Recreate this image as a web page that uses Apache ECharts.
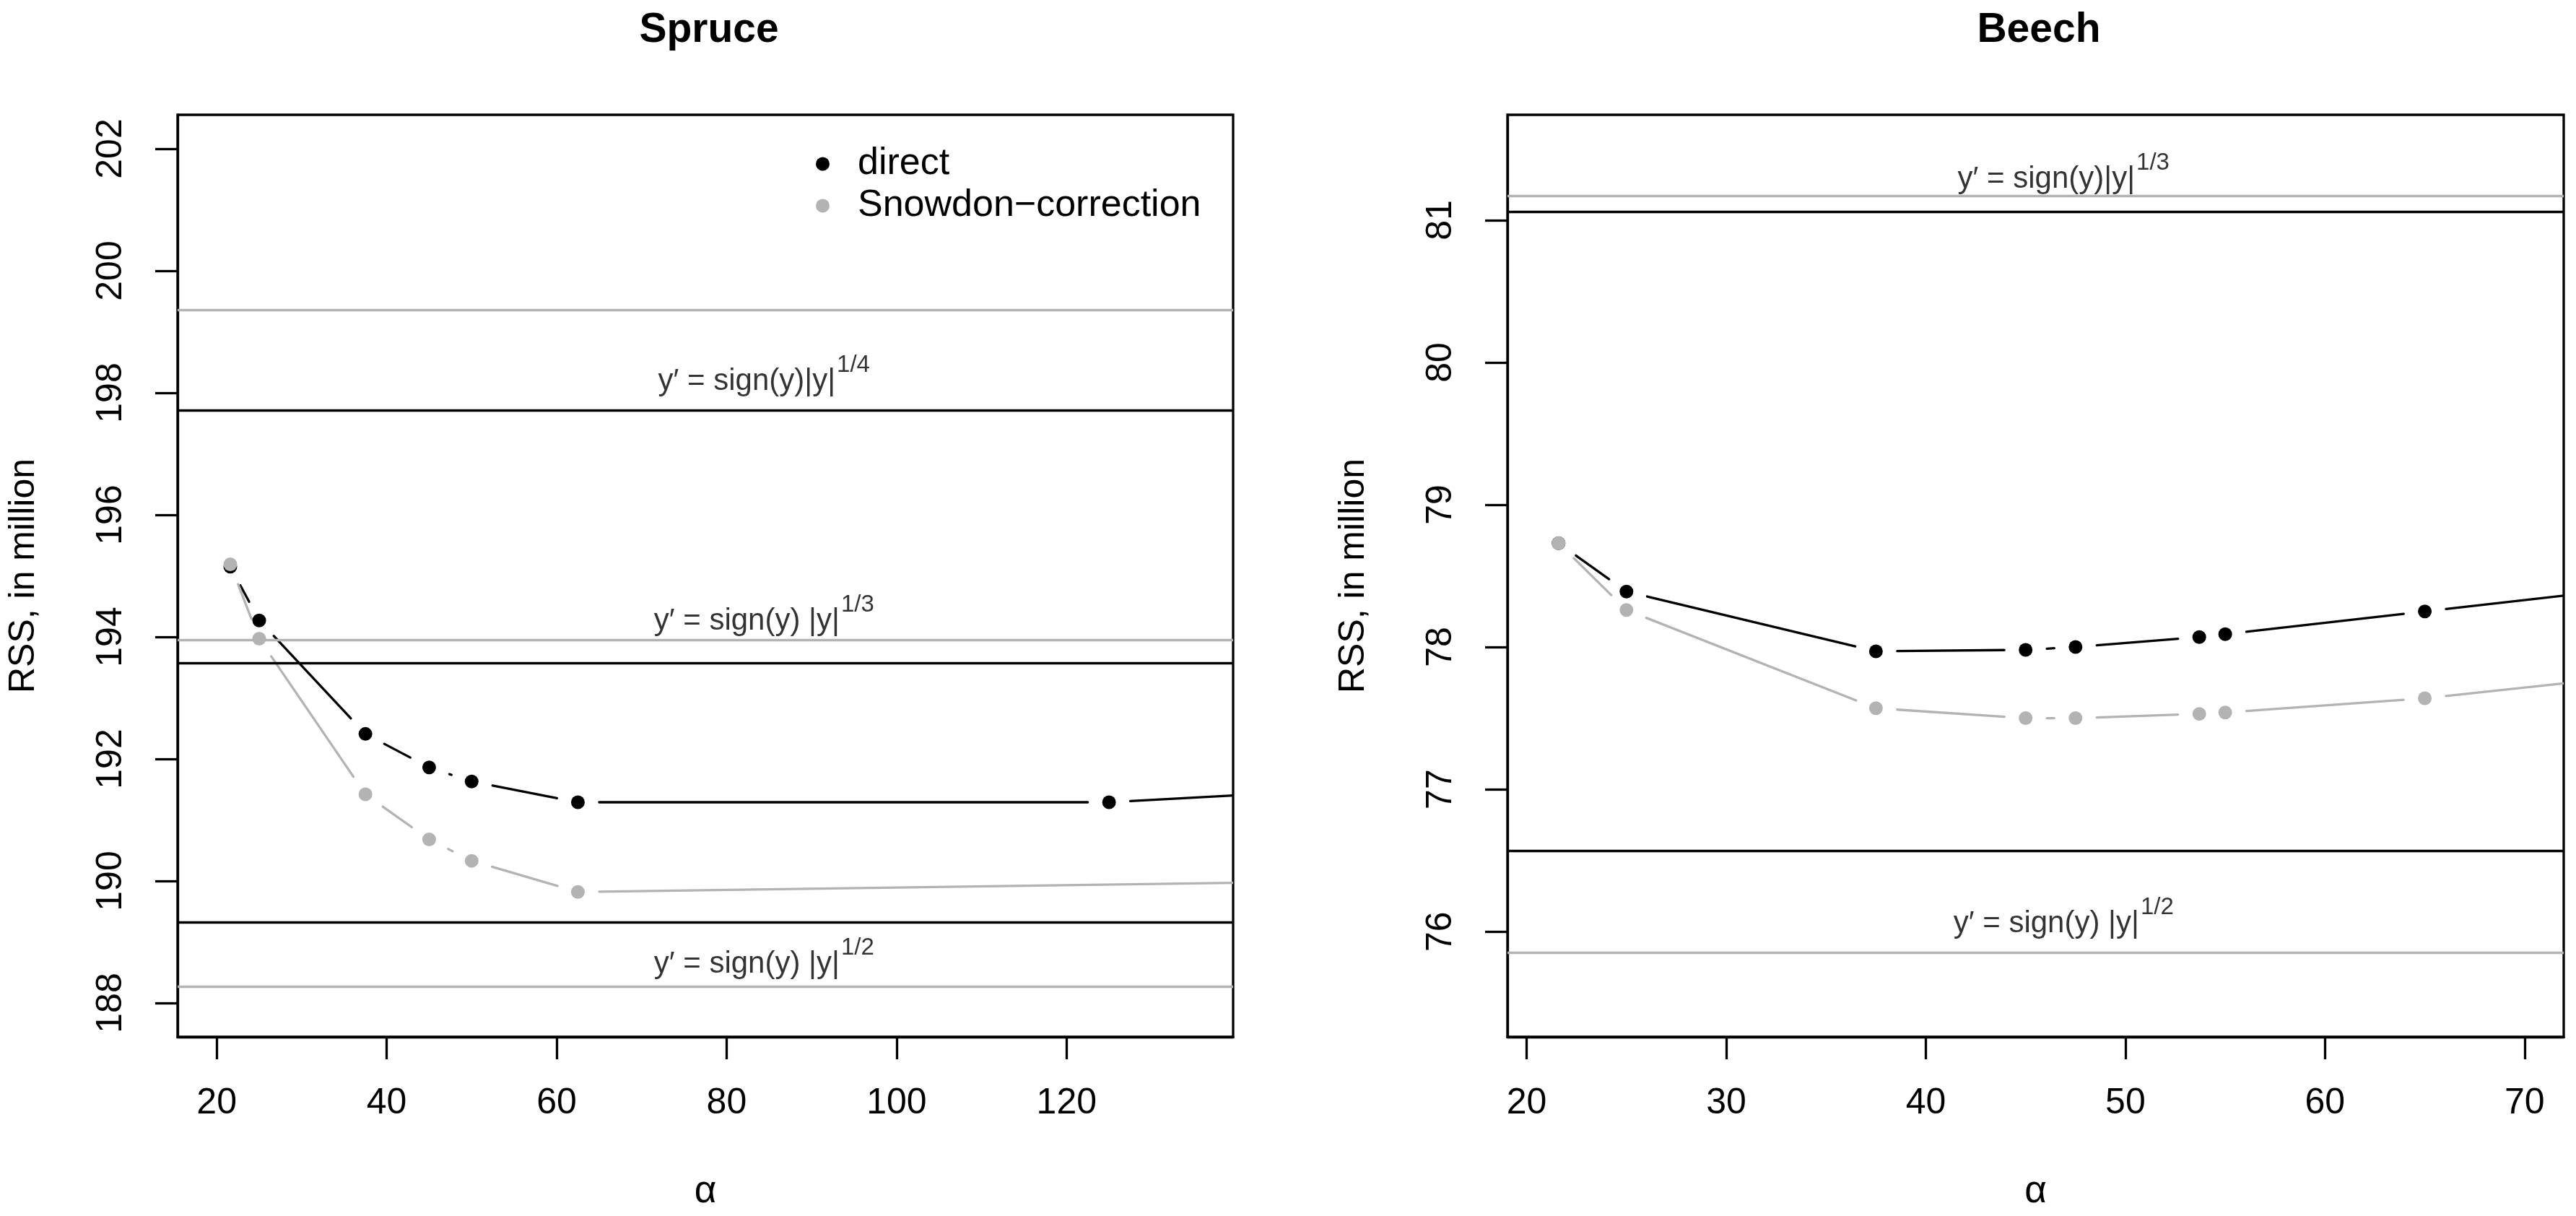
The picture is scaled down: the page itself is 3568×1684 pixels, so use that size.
<!DOCTYPE html>
<html>
<head>
<meta charset="UTF-8">
<script src="https://cdn.jsdelivr.net/npm/echarts@6/dist/echarts.min.js"></script>
<style>
    html, body { margin: 0; padding: 0; background: #fff; }
    #main { width: 3568px; height: 1684px; }
</style>
</head>
<body>
<div id="main"></div>
<script>
// ---- data ----
var spruceAlphaDirect = [21.6, 25, 37.5, 45, 50, 62.5, 125, 150];
var spruceRssDirect   = [195.15, 194.27, 192.41, 191.86, 191.63, 191.29, 191.29, 191.48];
var spruceAlphaSnow   = [21.6, 25, 37.5, 45, 50, 62.5, 150];
var spruceRssSnow     = [195.19, 193.97, 191.42, 190.68, 190.33, 189.82, 189.99];

var beechAlpha        = [21.6, 25, 37.5, 45, 47.5, 53.7, 55, 65, 75];
var beechRssDirect    = [78.73, 78.39, 77.97, 77.98, 78.00, 78.07, 78.09, 78.25, 78.41];
var beechRssSnow      = [78.73, 78.26, 77.57, 77.50, 77.50, 77.53, 77.54, 77.64, 77.79];

// reference levels of the power transformations
var spruceRefDirect = [197.71, 193.57, 189.32];
var spruceRefSnow   = [199.36, 193.95, 188.27];
var beechRefDirect  = [81.06, 76.57];
var beechRefSnow    = [81.17, 75.85];

// annotation texts and where they sit (data units)
var spruceLabelBase = ['y\u2032 = sign(y)|y|', 'y\u2032 = sign(y) |y|', 'y\u2032 = sign(y) |y|'];
var spruceLabelPow  = ['1/4', '1/3', '1/2'];
var spruceLabelX    = [84.4, 84.4, 84.4];
var spruceLabelY    = [198.0, 194.07, 188.45];
var beechLabelBase  = ['y\u2032 = sign(y)|y|', 'y\u2032 = sign(y) |y|'];
var beechLabelPow   = ['1/3', '1/2'];
var beechLabelX     = [46.9, 46.9];
var beechLabelY     = [81.21, 75.975];

var spruceXTicks = [20, 40, 60, 80, 100, 120];
var spruceYTicks = [188, 190, 192, 194, 196, 198, 200, 202];
var beechXTicks  = [20, 30, 40, 50, 60, 70];
var beechYTicks  = [76, 77, 78, 79, 80, 81];

var legendNames = ['direct', 'Snowdon\u2212correction'];

// ---- styling ----
var BLACK = '#000000';
var GRAY = '#b3b3b3';
var LW = 3.3;
var GAP = 29.5;
var REG = "'Liberation Sans', Arial, sans-serif";

var myChart = echarts.init(document.getElementById('main'), null, { renderer: 'canvas' });

function pairs(xs, ys) {
    return xs.map(function (x, i) { return [x, ys[i]]; });
}

function segments(xs, ys) {
    var out = [];
    for (var i = 0; i < xs.length - 1; i++) {
        out.push([xs[i], ys[i], xs[i + 1], ys[i + 1]]);
    }
    return out;
}

// R type="b": line pieces stop short of each point
function gapRenderer(color) {
    return function (params, api) {
        var p1 = api.coord([api.value(0), api.value(1)]);
        var p2 = api.coord([api.value(2), api.value(3)]);
        var dx = p2[0] - p1[0], dy = p2[1] - p1[1];
        var len = Math.sqrt(dx * dx + dy * dy);
        if (len <= 2 * GAP) return { type: 'group', children: [] };
        var ux = dx / len, uy = dy / len;
        var a = [p1[0] + ux * GAP, p1[1] + uy * GAP];
        var b = [p2[0] - ux * GAP, p2[1] - uy * GAP];
        var xr = params.coordSys.x + params.coordSys.width;
        if (a[0] >= xr) return { type: 'group', children: [] };
        if (b[0] > xr) {
            var t = (xr - a[0]) / (b[0] - a[0]);
            b = [xr, a[1] + t * (b[1] - a[1])];
        }
        return {
            type: 'line',
            shape: { x1: a[0], y1: a[1], x2: b[0], y2: b[1] },
            style: { stroke: color, lineWidth: LW, lineCap: 'round' }
        };
    };
}

function xAxisFor(gi, min, max, ticks) {
    return {
        type: 'value', gridIndex: gi, min: min, max: max,
        name: '\u03b1', nameLocation: 'middle', nameGap: 188,
        nameTextStyle: { fontSize: 53, fontFamily: REG, color: BLACK },
        axisLine: { show: true, onZero: false, lineStyle: { color: BLACK, width: LW } },
        axisTick: { show: true, length: 31, lineStyle: { color: BLACK, width: LW }, customValues: ticks },
        axisLabel: { show: true, margin: 67, fontSize: 50, fontFamily: REG, color: BLACK, customValues: ticks },
        splitLine: { show: false }
    };
}

function yAxisFor(gi, min, max, ticks) {
    return {
        type: 'value', gridIndex: gi, min: min, max: max,
        name: 'RSS, in million', nameLocation: 'middle', nameGap: 188, nameRotate: 90,
        nameTextStyle: { fontSize: 50, fontFamily: REG, color: BLACK },
        axisLine: { show: true, onZero: false, lineStyle: { color: BLACK, width: LW } },
        axisTick: { show: true, length: 31, lineStyle: { color: BLACK, width: LW }, customValues: ticks },
        axisLabel: { show: true, margin: 67, rotate: 90, fontSize: 50, fontFamily: REG, color: BLACK, customValues: ticks },
        splitLine: { show: false }
    };
}

function refLines(gi, values, color) {
    return {
        type: 'line', xAxisIndex: gi, yAxisIndex: gi, data: [],
        silent: true, animation: false,
        markLine: {
            silent: true, animation: false, symbol: ['none', 'none'],
            label: { show: false },
            lineStyle: { color: color, width: LW, type: 'solid' },
            data: values.map(function (v) { return { yAxis: v }; })
        }
    };
}

function curve(gi, name, xs, ys, color) {
    return [
        {
            type: 'custom', xAxisIndex: gi, yAxisIndex: gi, clip: true, silent: true,
            renderItem: gapRenderer(color),
            data: segments(xs, ys)
        },
        {
            type: 'scatter', name: name, xAxisIndex: gi, yAxisIndex: gi, clip: true,
            symbol: 'circle', symbolSize: 19,
            itemStyle: { color: color, opacity: 1 },
            data: pairs(xs, ys)
        }
    ];
}

function labels(gi, xs, ys, base, pow) {
    return {
        type: 'scatter', xAxisIndex: gi, yAxisIndex: gi, silent: true,
        symbol: 'circle', symbolSize: 1,
        itemStyle: { color: 'rgba(0,0,0,0)' },
        label: {
            show: true, position: 'top', distance: 0, offset: [0, 6],
            formatter: function (p) {
                return '{b|' + base[p.dataIndex] + '}{s|' + pow[p.dataIndex] + '}';
            },
            rich: {
                b: { fontSize: 42, lineHeight: 42, fontFamily: REG, color: BLACK, verticalAlign: 'bottom' },
                s: { fontSize: 33, lineHeight: 33, fontFamily: REG, color: BLACK, verticalAlign: 'bottom', padding: [0, 0, 27, 2] }
            }
        },
        data: pairs(xs, ys)
    };
}

var option = {
    animation: false,
    backgroundColor: '#ffffff',
    title: [
        { text: 'Spruce', left: 977, top: 9, textAlign: 'center',
          textStyle: { fontSize: 57, fontWeight: 'bold', fontFamily: REG, color: BLACK } },
        { text: 'Beech', left: 2819, top: 9, textAlign: 'center',
          textStyle: { fontSize: 57, fontWeight: 'bold', fontFamily: REG, color: BLACK } }
    ],
    legend: {
        data: legendNames,
        orient: 'vertical', left: 1125, top: 193,
        icon: 'circle', itemWidth: 87, itemHeight: 19, itemGap: 0,
        selectedMode: false,
        textStyle: { fontSize: 52, lineHeight: 58, fontFamily: REG, color: BLACK }
    },
    grid: [
        { left: 246, top: 159, width: 1462, height: 1277, show: true, borderColor: BLACK, borderWidth: LW, backgroundColor: 'transparent' },
        { left: 2088, top: 159, width: 1463, height: 1277, show: true, borderColor: BLACK, borderWidth: LW, backgroundColor: 'transparent' }
    ],
    xAxis: [
        xAxisFor(0, 15.4, 139.6, spruceXTicks),
        xAxisFor(1, 19.04, 71.96, beechXTicks)
    ],
    yAxis: [
        yAxisFor(0, 187.444, 202.556, spruceYTicks),
        yAxisFor(1, 75.26, 81.74, beechYTicks)
    ],
    series: [].concat(
        refLines(0, spruceRefSnow, GRAY),
        refLines(0, spruceRefDirect, BLACK),
        refLines(1, beechRefSnow, GRAY),
        refLines(1, beechRefDirect, BLACK),
        curve(0, legendNames[0], spruceAlphaDirect, spruceRssDirect, BLACK),
        curve(0, legendNames[1], spruceAlphaSnow, spruceRssSnow, GRAY),
        curve(1, legendNames[0], beechAlpha, beechRssDirect, BLACK),
        curve(1, legendNames[1], beechAlpha, beechRssSnow, GRAY),
        labels(0, spruceLabelX, spruceLabelY, spruceLabelBase, spruceLabelPow),
        labels(1, beechLabelX, beechLabelY, beechLabelBase, beechLabelPow)
    )
};

myChart.setOption(option);
</script>
</body>
</html>
